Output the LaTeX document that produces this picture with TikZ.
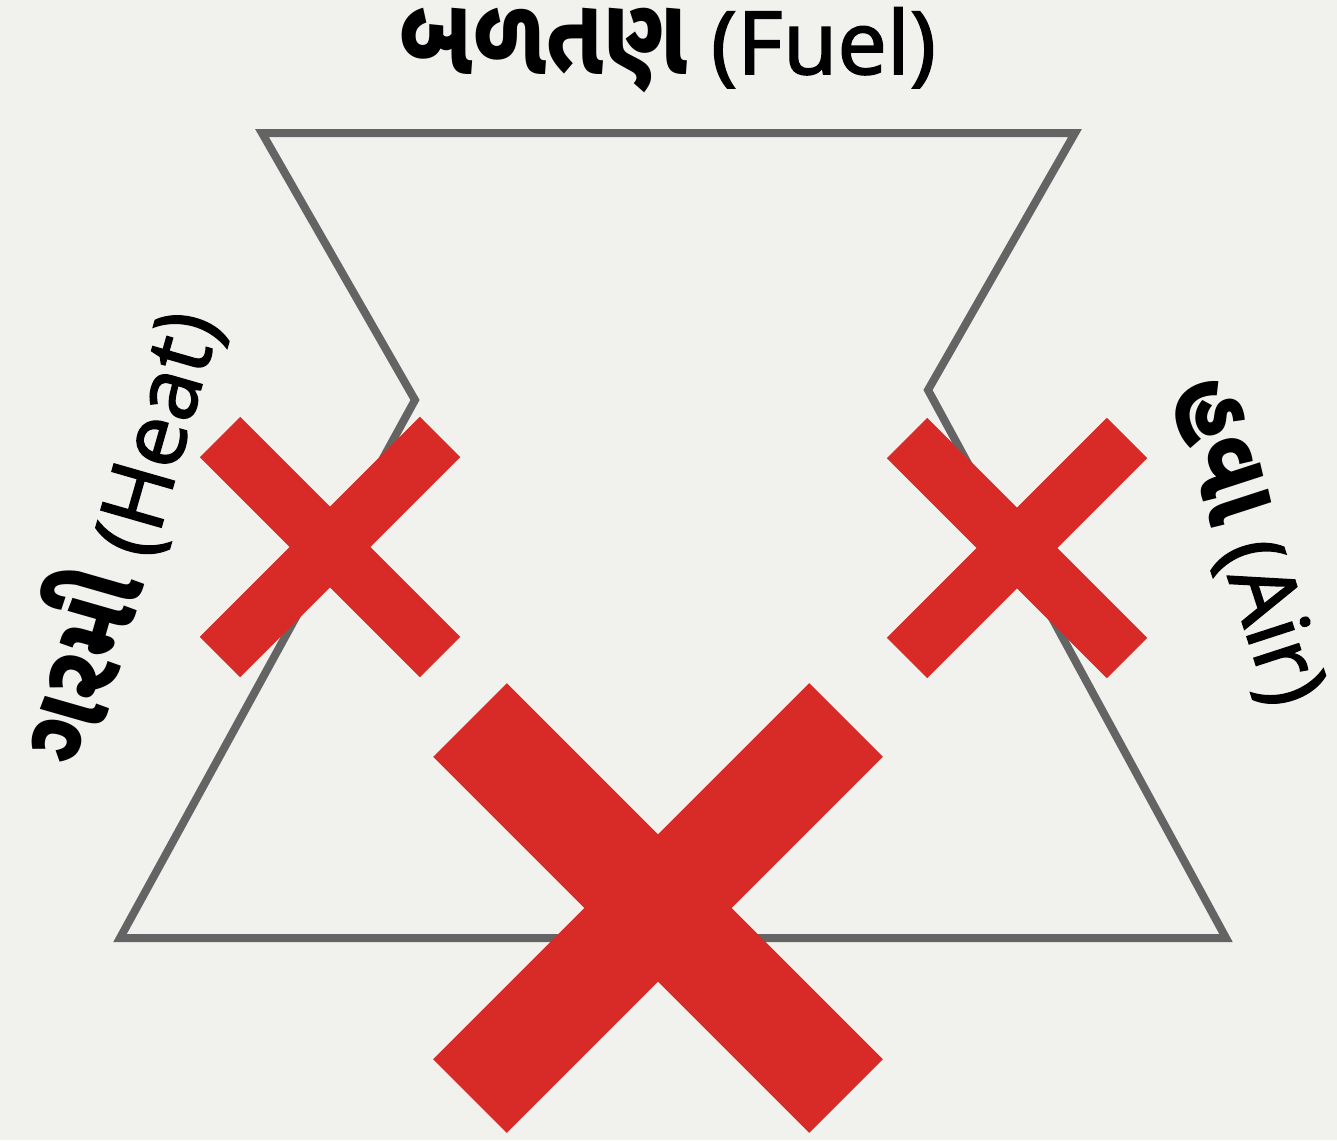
\documentclass[tikz,border=0pt]{standalone}
\usepackage{fontspec}
\usetikzlibrary{calc}
\setmainfont{Noto Sans}[FakeBold=1.5]
\newfontfamily\gujfont[Script=Gujarati,Scale=1.25,FakeStretch=0.82]{Noto Sans Gujarati UI}
\definecolor{bgc}{HTML}{F1F1ED}
\definecolor{outl}{HTML}{646464}
\definecolor{xred}{HTML}{D82A26}
\tikzset{
  outline/.style={draw=outl, line width=4pt, line join=miter},
  smallx/.style={draw=xred, line width=28.5pt, line cap=butt},
  bigx/.style={draw=xred, line width=52pt, line cap=butt},
  lbl/.style={font=\fontsize{44}{50}\selectfont, text=black, inner sep=0pt}
}
\begin{document}
\begin{tikzpicture}[x=0.5pt, y=-0.5pt]
\fill[bgc] (0,0) rectangle (1337,1140);
\useasboundingbox (0,0) rectangle (1337,1140);
% outline
\coordinate (tl) at (262,133);
\coordinate (tr) at (1075,133);
\coordinate (rp) at (928,390);
\coordinate (br) at (1226,938);
\coordinate (bl) at (120,938);
\coordinate (lp) at (415,400);
\draw[outline] (tl) -- (tr) -- (rp) -- (br) -- (bl) -- (lp) -- cycle;
% crosses
\coordinate (xl) at (330,547);
\coordinate (xr) at (1017,548);
\coordinate (xb) at (658,908);
\draw[smallx] ($(xl)+(-110,-110)$) -- ($(xl)+(110,110)$);
\draw[smallx] ($(xl)+(110,-110)$) -- ($(xl)+(-110,110)$);
\draw[smallx] ($(xr)+(-110,-110)$) -- ($(xr)+(110,110)$);
\draw[smallx] ($(xr)+(110,-110)$) -- ($(xr)+(-110,110)$);
\draw[bigx] ($(xb)+(-188,-188)$) -- ($(xb)+(188,188)$);
\draw[bigx] ($(xb)+(188,-188)$) -- ($(xb)+(-188,188)$);
% labels
\node[lbl] (fuel) at (668,50) {{\gujfont\bfseries બળતણ} (Fuel)};
\node[lbl, rotate=74] (heat) at (115,535) {{\gujfont\bfseries ગરમી} (Heat)};
\node[lbl, rotate=-72] (air) at (1244,543) {{\gujfont\bfseries હવા} (Air)};
\end{tikzpicture}
\end{document}
